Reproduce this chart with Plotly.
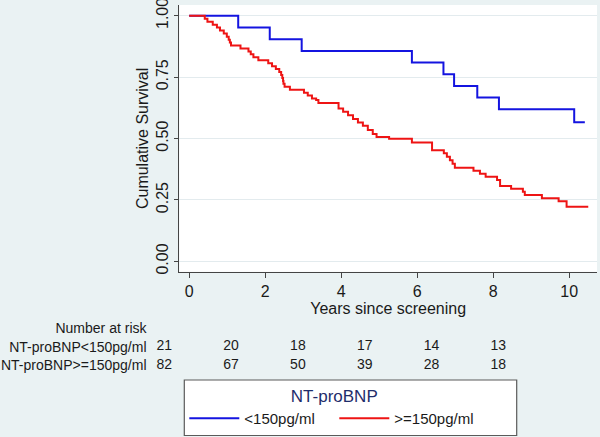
import plotly.graph_objects as go

# ---------------- data ----------------
# Kaplan-Meier steps: years since screening and cumulative survival
low_time = [0, 1.29, 2.12, 2.96, 5.86, 6.69, 6.97, 7.58, 8.15, 10.13, 10.41]
low_surv = [1.0, 0.952, 0.905, 0.857, 0.810, 0.762, 0.714, 0.667, 0.619, 0.567, 0.567]

high_time = [0, 0.41, 0.48, 0.62, 0.73, 0.81, 0.91, 0.99, 1.04, 1.07, 1.10,
             1.35, 1.56, 1.62, 1.69, 1.82,
             2.08, 2.18, 2.28, 2.37, 2.42, 2.45, 2.47, 2.48, 2.51, 2.65,
             3.02, 3.12, 3.23, 3.34, 3.40,
             3.93, 4.05, 4.18, 4.31, 4.44, 4.57, 4.70, 4.83, 4.93,
             5.26, 5.86, 6.39, 6.70, 6.78, 6.86, 6.93, 6.99,
             7.48, 7.65, 7.80, 8.10, 8.18, 8.47, 8.78, 8.83,
             9.28, 9.72, 9.93, 10.50]
high_surv = [1.0, 0.988, 0.976, 0.964, 0.952, 0.940, 0.928, 0.915, 0.903, 0.891, 0.879,
             0.867, 0.855, 0.843, 0.831, 0.819,
             0.807, 0.795, 0.783, 0.771, 0.759, 0.747, 0.735, 0.723, 0.711, 0.699,
             0.687, 0.675, 0.663, 0.657, 0.645,
             0.623, 0.609, 0.595, 0.580, 0.566, 0.552, 0.535, 0.519, 0.507,
             0.499, 0.484, 0.453, 0.440, 0.426, 0.412, 0.398, 0.381,
             0.369, 0.357, 0.345, 0.331, 0.307, 0.296, 0.284, 0.270,
             0.257, 0.245, 0.222, 0.222]

series_names = ["<150pg/ml", ">=150pg/ml"]
row_labels = ["Number at risk", "NT-proBNP<150pg/ml", "NT-proBNP>=150pg/ml"]
risk_years = [0, 2, 4, 6, 8, 10]
risk_low = [21, 20, 18, 17, 14, 13]
risk_high = [82, 67, 50, 39, 28, 18]

y_ticks = [0, 0.25, 0.5, 0.75, 1.0]
x_ticks = [0, 2, 4, 6, 8, 10]

# ---------------- style ----------------
W, H = 600, 437
BG = "#EAF2F3"
FONT = "Liberation Sans, Arial, sans-serif"
TXT = "#1a1a1a"
BLUE = "#1414E0"
RED = "#EE1414"

fig = go.Figure()
fig.add_trace(go.Scatter(x=low_time, y=low_surv, mode="lines", name=series_names[0],
                         line=dict(color=BLUE, width=2, shape="hv")))
fig.add_trace(go.Scatter(x=high_time, y=high_surv, mode="lines", name=series_names[1],
                         line=dict(color=RED, width=2, shape="hv")))

for label, counts in [(row_labels[1], risk_low), (row_labels[2], risk_high)]:
    fig.add_trace(go.Scatter(x=risk_years, y=[label] * len(risk_years), mode="text",
                             text=[str(c) for c in counts], textposition="middle center",
                             textfont=dict(size=14, color=TXT, family=FONT),
                             xaxis="x2", yaxis="y2", showlegend=False,
                             hoverinfo="skip", cliponaxis=False))

# white plot region
fig.add_shape(type="rect", xref="x domain", yref="y domain", x0=0, x1=1, y0=0, y1=1,
              fillcolor="white", line=dict(width=0), layer="below")
# legend frame
fig.add_shape(type="rect", xref="paper", yref="paper",
              x0=184.3 / W, x1=516.7 / W, y0=1 - 435.5 / H, y1=1 - 380 / H,
              fillcolor="white", line=dict(color="#5a5a5a", width=1.2), layer="above")

fig.update_layout(
    width=W, height=H, autosize=False,
    margin=dict(l=0, r=0, t=0, b=0),
    paper_bgcolor=BG, plot_bgcolor=BG,
    font=dict(family=FONT, color=TXT, size=16),
    xaxis=dict(domain=[179.3 / W, 597 / W], anchor="y", range=[-0.26, 10.73],
               tickvals=x_ticks, ticks="outside", ticklen=5, tickcolor="#444",
               showline=True, linecolor="#444", linewidth=1, showgrid=False, zeroline=False,
               tickfont=dict(size=16), automargin=False, ticklabeloverflow="allow",
               title=dict(text="Years since screening", font=dict(size=16), standoff=1)),
    yaxis=dict(domain=[1 - 271.7 / H, 1 - 5 / H], anchor="x", range=[-0.042, 1.044],
               tickvals=y_ticks, tickformat=".2f", tickangle=-90, ticks="outside", ticklen=4,
               tickcolor="#444", showline=True, linecolor="#444", linewidth=1,
               showgrid=True, gridcolor="#E3EBEE", gridwidth=1, zeroline=False,
               tickfont=dict(size=16), automargin=False, ticklabeloverflow="allow",
               title=dict(text="Cumulative Survival", font=dict(size=16), standoff=1)),
    xaxis2=dict(domain=[0, 1], anchor="y2", range=[-4.919, 13.045], visible=False),
    yaxis2=dict(domain=[1 - 375 / H, 1 - 320 / H], anchor="free", position=146.5 / W,
                type="category", categoryorder="array", categoryarray=row_labels,
                range=[2.546, -0.459], showgrid=False, zeroline=False, showline=False,
                ticks="", tickfont=dict(size=14, color=TXT), automargin=False,
                ticklabeloverflow="allow"),
    legend=dict(orientation="h", xref="paper", yref="paper",
                x=184.3 / W, y=1 - 380 / H, xanchor="left", yanchor="top",
                bgcolor="rgba(0,0,0,0)", borderwidth=0,
                font=dict(size=15, color=TXT),
                title=dict(text="NT-proBNP", side="top center",
                           font=dict(size=17, color="#1F2D6B")),
                entrywidth=85, entrywidthmode="pixels", itemwidth=50,
                tracegroupgap=0),
    showlegend=True,
)

fig.write_html("out.html", config={"displayModeBar": False},
               post_script="document.body.style.margin='0';document.body.style.padding='0';")
